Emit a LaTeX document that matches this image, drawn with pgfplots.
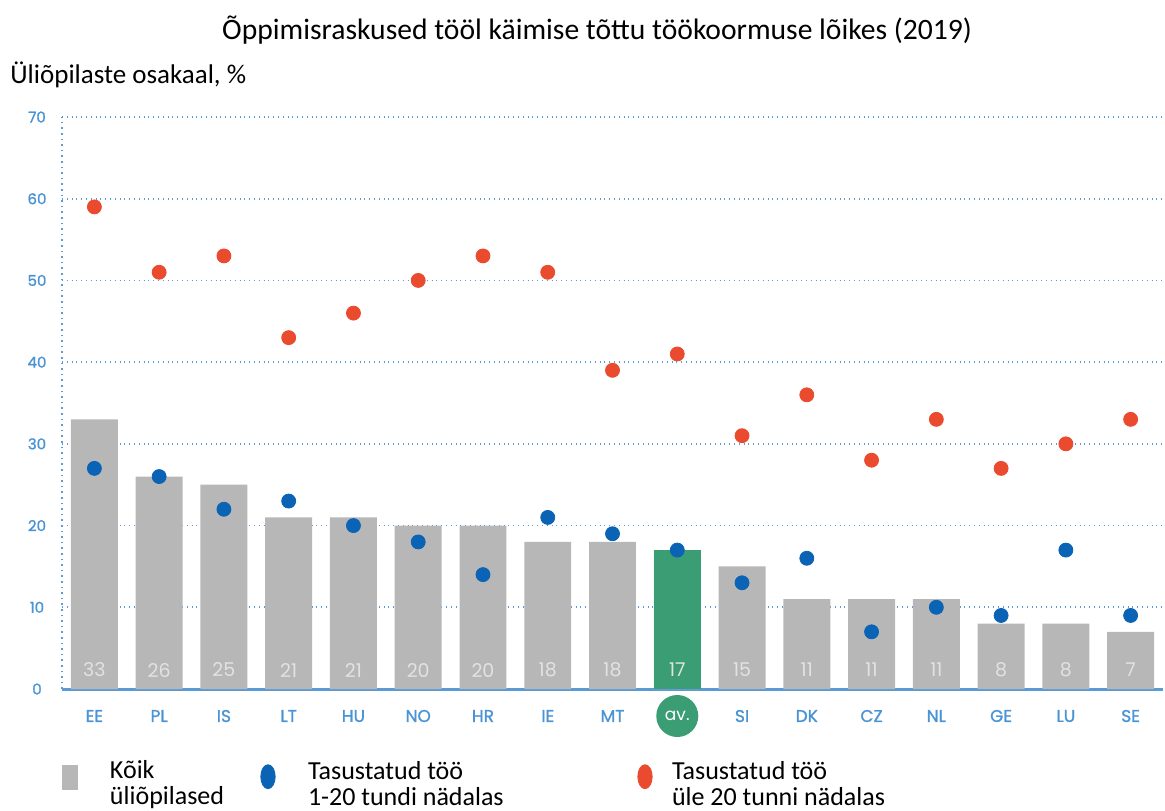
\documentclass[border=0pt]{standalone}
\usepackage{pgfplots}
\pgfplotsset{compat=1.18}
\usepackage{pgfplotstable}
\usepackage{fontspec}
\setmainfont{Carlito}
\newfontfamily\pop{Poppins}
\newfontfamily\popb{Poppins}[FakeBold=1.2]
\definecolor{bargray}{HTML}{B7B7B7}
\definecolor{avgreen}{HTML}{3A9D74}
\definecolor{dotblue}{HTML}{0A63B5}
\definecolor{dotred}{HTML}{EA4A2E}
\definecolor{tickblue}{HTML}{4A93D4}
\definecolor{gridblue}{HTML}{5B9BD5}
\definecolor{numgray}{HTML}{E2E2E2}
\pgfplotstableread{
x all blue red
0 33 27 59
1 26 26 51
2 25 22 53
3 21 23 43
4 21 20 46
5 20 18 50
6 20 14 53
7 18 21 51
8 18 19 39
9 17 17 41
10 15 13 31
11 11 16 36
12 11 7 28
13 11 10 33
14 8 9 27
15 8 17 30
16 7 9 33
}\data
\pgfplotstableread{
x all
9 17
}\avdata
\begin{document}
\begin{tikzpicture}
\begin{axis}[
 at={(0,0)}, anchor=south west,
 scale only axis, width=550.5pt, height=286pt,
 xmin=-0.5, xmax=16.5, ymin=0, ymax=70,
 ytick={0,10,...,70},
 xtick={0,...,16},
 xticklabels={EE,PL,IS,LT,HU,NO,HR,IE,MT,,SI,DK,CZ,NL,GE,LU,SE},
 major tick length=0pt,
 axis x line*=bottom, axis y line*=left,
 x axis line style={color=gridblue, line width=1.5pt, -},
 y axis line style={color=gridblue, dotted, line width=0.8pt, -},
 ymajorgrids, grid style={color=gridblue, dotted, line width=0.8pt},
 /pgf/number format/assume math mode=true,
 xticklabel style={font=\popb\fontsize{8.5}{9}\selectfont, text=tickblue, anchor=center, yshift=-13.5pt},
 yticklabel style={font=\popb\fontsize{7.5}{9}\selectfont, text=tickblue, anchor=center, xshift=-12.5pt},
 clip=false,
 legend columns=3,
 legend style={at={(axis description cs:0,0)}, anchor=north west, yshift=-35.5pt,
   draw=none, fill=none, inner sep=0pt, outer sep=0pt, column sep=0pt,
   nodes={inner sep=0pt, outer sep=0pt, font=\fontsize{13}{13.2}\selectfont}},
 legend cell align=left,
]
\addplot[ybar, bar width=0.725, bar shift=0pt, fill=bargray, draw=none,
  legend image code/.code={\path[draw=none,fill=none] (0pt,-6pt) rectangle (24pt,6pt); \fill[bargray] (0pt,-6.5pt) rectangle (8pt,6pt);}]
  table[x=x, y=all] {\data};
\addlegendentry{\parbox[c]{65pt}{Kõik\\üliõpilased}}
\addplot[ybar, bar width=0.725, bar shift=0pt, fill=avgreen, draw=none, forget plot]
  table[x=x, y=all] {\avdata};
\addplot[only marks, mark=*, mark size=3.5pt, color=dotblue,
  legend image code/.code={\path[draw=none,fill=none] (-14pt,-6pt) rectangle (20pt,6pt); \fill[dotblue] (0pt,0pt) ellipse [x radius=3.6pt, y radius=6pt];}]
  table[x=x, y=blue] {\data};
\addlegendentry{\parbox[c]{154.5pt}{Tasustatud töö\\1-20 tundi nädalas}}
\addplot[only marks, mark=*, mark size=3.5pt, color=dotred,
  legend image code/.code={\path[draw=none,fill=none] (-14pt,-6pt) rectangle (13.5pt,6pt); \fill[dotred] (0pt,0pt) ellipse [x radius=3.6pt, y radius=6pt];}]
  table[x=x, y=red] {\data};
\addlegendentry{\parbox[c]{130pt}{Tasustatud töö\\üle 20 tunni nädalas}}
\addplot[draw=none, mark=none, forget plot, point meta=explicit,
  nodes near coords, nodes near coords style={font=\pop\fontsize{9.5}{10}\selectfont, text=numgray, anchor=center, yshift=9.5pt}]
  table[x=x, y expr=0, meta=all] {\data};
\node[circle, fill=avgreen, minimum size=21pt, inner sep=0pt, text=white, font=\pop\fontsize{8.5}{9}\selectfont]
  at (axis cs:9,0) [yshift=-13.5pt] {av.};
\node[anchor=west, inner sep=0pt, font=\fontsize{13.5}{14}\selectfont] at (axis description cs:0,1) [xshift=-26pt, yshift=21pt] {Üliõpilaste osakaal, \%};
\node[anchor=center, font=\fontsize{14.8}{16}\selectfont] at (axis description cs:0.486,1) [yshift=43.5pt] {Õppimisraskused tööl käimise tõttu töökoormuse lõikes (2019)};
\end{axis}
\pgfresetboundingbox
\path[use as bounding box] (-31pt,-60.5pt) rectangle (551.5pt,344.5pt);
\end{tikzpicture}
\end{document}
